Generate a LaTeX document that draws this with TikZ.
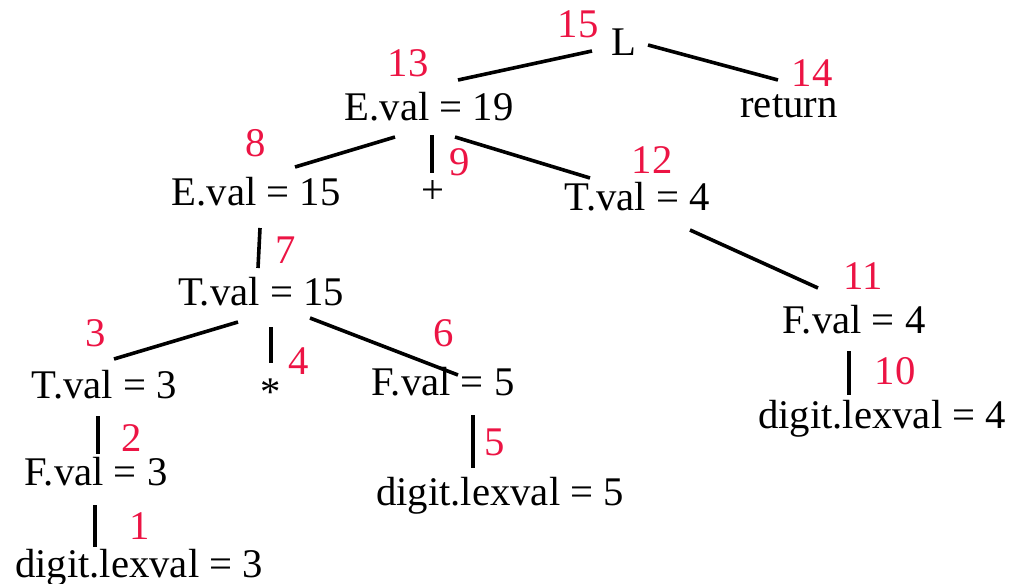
\documentclass[tikz,border=0pt]{standalone}
\usepackage{fontspec}
\setmainfont{Liberation Serif}
\definecolor{numred}{RGB}{236,20,68}
\begin{document}
\begin{tikzpicture}[x=1pt,y=-1pt,
  lbl/.style={anchor=base,inner sep=0pt,font=\fontsize{40.7}{48}\selectfont},
  num/.style={inner sep=0pt,text=numred,font=\fontsize{40.7}{48}\selectfont},
  edge/.style={line width=3.6pt}]
\useasboundingbox (0,0) rectangle (1010,584);
% nodes
\node[lbl] (L) at (624,55) {L};
\node[lbl] (ret) at (789,117) {return};
\node[lbl] (E19) at (429,120) {E.val = 19};
\node[lbl] (E15) at (256,205) {E.val = 15};
\node[lbl] (plus) at (433,203) {+};
\node[lbl] (T4) at (637,210) {T.val = 4};
\node[lbl] (T15) at (261,305) {T.val = 15};
\node[lbl] (F4) at (854,333) {F.val = 4};
\node[lbl] (d4) at (882,428) {digit.lexval = 4};
\node[lbl] (T3) at (104,398) {T.val = 3};
\node[lbl] (star) at (271,405) {*};
\node[lbl] (F5) at (443,395) {F.val = 5};
\node[lbl] (F3) at (96,485) {F.val = 3};
\node[lbl] (d3) at (139,577) {digit.lexval = 3};
\node[lbl] (d5) at (500,505) {digit.lexval = 5};
% numbers
\node[num] (n15) at (578,24) {15};
\node[num] (n14) at (812,73) {14};
\node[num] (n13) at (408,63) {13};
\node[num] (n8) at (256,143) {8};
\node[num] (n9) at (460,162) {9};
\node[num] (n12) at (652,160) {12};
\node[num] (n7) at (286,250) {7};
\node[num] (n11) at (863,276) {11};
\node[num] (n10) at (895,371) {10};
\node[num] (n3) at (96,333) {3};
\node[num] (n4) at (299,361) {4};
\node[num] (n6) at (444,333) {6};
\node[num] (n2) at (132,438) {2};
\node[num] (n5) at (495,442) {5};
\node[num] (n1) at (140,526) {1};
% connector ends
\coordinate (La) at (592,51);  \coordinate (E19a) at (458,80);
\coordinate (Lb) at (648,45);  \coordinate (reta) at (778,80);
\coordinate (E19b) at (395,137); \coordinate (E15a) at (295,167);
\coordinate (E19c) at (432,135); \coordinate (plusa) at (432,173);
\coordinate (E19d) at (455,137); \coordinate (T4a) at (590,178);
\coordinate (E15b) at (260,228); \coordinate (T15a) at (258,268);
\coordinate (T4b) at (690,230); \coordinate (F4a) at (818,288);
\coordinate (F4b) at (849,351); \coordinate (d4a) at (849,395);
\coordinate (T15b) at (238,322); \coordinate (T3a) at (114,359);
\coordinate (T15c) at (271,327); \coordinate (stara) at (271,363);
\coordinate (T15d) at (310,318); \coordinate (F5a) at (458,375);
\coordinate (T3b) at (98,416); \coordinate (F3a) at (98,454);
\coordinate (F3b) at (95,505); \coordinate (d3a) at (95,547);
\coordinate (F5b) at (473,415); \coordinate (d5a) at (473,468);
% connectors
\draw[edge] (La) -- (E19a);
\draw[edge] (Lb) -- (reta);
\draw[edge] (E19b) -- (E15a);
\draw[edge] (E19c) -- (plusa);
\draw[edge] (E19d) -- (T4a);
\draw[edge] (E15b) -- (T15a);
\draw[edge] (T4b) -- (F4a);
\draw[edge] (F4b) -- (d4a);
\draw[edge] (T15b) -- (T3a);
\draw[edge] (T15c) -- (stara);
\draw[edge] (T15d) -- (F5a);
\draw[edge] (T3b) -- (F3a);
\draw[edge] (F3b) -- (d3a);
\draw[edge] (F5b) -- (d5a);
\end{tikzpicture}
\end{document}
